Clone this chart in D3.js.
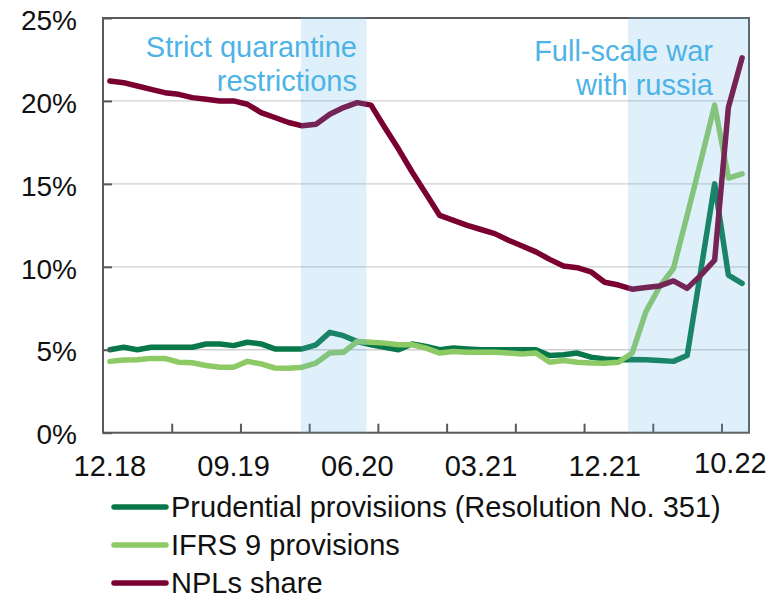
<!DOCTYPE html>
<html>
<head>
<meta charset="utf-8">
<script src="https://cdn.jsdelivr.net/npm/d3@7"></script>
<style>
  body { margin: 0; background: #fff; }
  svg { display: block; font-family: "Liberation Sans", Arial, sans-serif; }
</style>
</head>
<body>
<div id="container"></div>
<script>
var w = 784;
var h = 597;

// monthly categories, 12.18 .. 10.22
var months = d3.timeMonths(new Date(2018, 11, 1), new Date(2022, 10, 1));

// shares, %
var prudential = [5.0, 5.15, 5.0, 5.15, 5.15, 5.15, 5.15, 5.35, 5.35, 5.25,
  5.45, 5.35, 5.05, 5.05, 5.05, 5.3, 6.05, 5.85, 5.5, 5.3,
  5.15, 5.0, 5.35, 5.2, 5.0, 5.1, 5.05, 5.0, 5.0, 5.0,
  5.0, 5.0, 4.65, 4.7, 4.8, 4.55, 4.45, 4.4, 4.42, 4.4,
  4.35, 4.3, 4.65, 9.8, 15.0, 9.5, 9.0];
var ifrs9 = [4.3, 4.38, 4.4, 4.48, 4.48, 4.25, 4.22, 4.05, 3.95, 3.95,
  4.3, 4.15, 3.9, 3.88, 3.95, 4.2, 4.8, 4.85, 5.5, 5.45,
  5.4, 5.3, 5.3, 5.1, 4.8, 4.9, 4.85, 4.85, 4.85, 4.8,
  4.75, 4.8, 4.25, 4.35, 4.25, 4.2, 4.18, 4.25, 4.8, 7.3,
  8.8, 9.9, 13.1, 16.4, 19.75, 15.35, 15.6];
var npl = [21.2, 21.1, 20.9, 20.7, 20.5, 20.4, 20.2, 20.1, 20.0, 20.0,
  19.8, 19.3, 19.0, 18.7, 18.5, 18.6, 19.2, 19.6, 19.9, 19.75,
  18.4, 17.1, 15.7, 14.4, 13.1, 12.8, 12.5, 12.25, 12.0, 11.6,
  11.25, 10.9, 10.45, 10.05, 9.95, 9.7, 9.07, 8.9, 8.65, 8.75,
  8.85, 9.15, 8.7, 9.5, 10.4, 19.6, 22.6];

var seriesNames = ["Prudential provisiions (Resolution No. 351)", "IFRS 9 provisions", "NPLs share"];
var seriesColors = ["#08784a", "#8dc965", "#7a0032"];

var xLabels = ["12.18", "09.19", "06.20", "03.21", "12.21", "10.22"];
var yTicks = [0, 5, 10, 15, 20, 25];

// shaded periods, in month slots from 12.18
var shades = [[14.4, 19.1], [38.2, 47]];
var shadeNotes = [["Strict quarantine", "restrictions"], ["Full-scale war", "with russia"]];

var pl = 103, pr = 749, pt = 18, pb = 432.7;

var svg = d3.select("div#container")
    .append("svg")
    .attr("width", w)
    .attr("height", h)
    .style("background-color", "#fff");

var x = d3.scaleLinear().domain([0, months.length]).range([pl, pr]);
var y = d3.scaleLinear().domain([0, 25]).range([pb, pt]);

// gridlines
svg.append("g")
  .selectAll("line")
  .data(yTicks.slice(1, -1))
  .enter().append("line")
    .attr("x1", pl).attr("x2", pr)
    .attr("y1", d => y(d)).attr("y2", d => y(d))
    .attr("stroke", "#d0d0d0")
    .attr("stroke-width", 1.3);

// lines
var line = d3.line()
    .x((d, i) => x(i + 0.5))
    .y(d => y(d));

var allSeries = [prudential, ifrs9, npl];
svg.append("g")
  .selectAll("path")
  .data(allSeries)
  .enter().append("path")
    .attr("d", line)
    .attr("fill", "none")
    .attr("stroke", (d, i) => seriesColors[i])
    .attr("stroke-width", 5.5)
    .attr("stroke-linejoin", "round")
    .attr("stroke-linecap", "round");

// frame
svg.append("rect")
  .attr("x", pl).attr("y", pt)
  .attr("width", pr - pl).attr("height", pb - pt)
  .attr("fill", "none")
  .attr("stroke", "#595959")
  .attr("stroke-width", 2);

// y axis
var yAxis = svg.append("g")
  .attr("transform", `translate(${pl},0)`)
  .call(d3.axisLeft(y).tickValues(yTicks).tickFormat(d => d + "%").tickSize(-9).tickPadding(26));
yAxis.select(".domain").remove();
yAxis.selectAll("line").attr("stroke", "#595959").attr("stroke-width", 2);
yAxis.selectAll("text")
  .attr("font-size", 28)
  .attr("fill", "#111")
  .attr("dy", "0.4em");

// x axis ticks every 5 months
var xTicks = svg.append("g")
  .attr("transform", `translate(0,${pb})`)
  .call(d3.axisBottom(x).tickValues(d3.range(5, months.length, 5)).tickSize(-9).tickFormat(""));
xTicks.select(".domain").remove();
xTicks.selectAll("line").attr("stroke", "#595959").attr("stroke-width", 2);

// x labels every 9 months
svg.append("g")
  .selectAll("text")
  .data(xLabels)
  .enter().append("text")
    .attr("x", (d, i) => x(i * 9 + 0.5) + (i == xLabels.length - 1 ? 2 : 0))
    .attr("y", (d, i) => i == xLabels.length - 1 ? 472.5 : 476)
    .attr("text-anchor", "middle")
    .attr("font-size", 29)
    .attr("fill", "#111")
    .text(d => d);

// shaded periods on top
svg.append("g")
  .selectAll("rect")
  .data(shades)
  .enter().append("rect")
    .attr("x", d => x(d[0]))
    .attr("y", pt - 1)
    .attr("width", d => x(d[1]) - x(d[0]) + 1)
    .attr("height", pb - pt + 1)
    .attr("fill", "rgb(100,180,230)")
    .attr("fill-opacity", 0.2);

// notes
var noteX = [357, 713];
var noteY = [57, 61];
shadeNotes.forEach(function(lines, k) {
  var t = svg.append("text")
    .attr("text-anchor", "end")
    .attr("font-size", 29)
    .attr("fill", "#4db3e6");
  lines.forEach(function(s, j) {
    t.append("tspan")
      .attr("x", noteX[k])
      .attr("y", noteY[k] + j * 34)
      .text(s);
  });
});

// legend
var legend = svg.append("g")
  .selectAll("g")
  .data(seriesNames)
  .enter().append("g")
    .attr("transform", (d, i) => `translate(0,${507 + i * 38})`);
legend.append("line")
  .attr("x1", 114).attr("x2", 166)
  .attr("stroke", (d, i) => seriesColors[i])
  .attr("stroke-width", 5.5)
  .attr("stroke-linecap", "round");
legend.append("text")
  .attr("x", 171)
  .attr("y", 10)
  .attr("font-size", 29)
  .attr("fill", "#111")
  .text(d => d);
</script>
</body>
</html>
